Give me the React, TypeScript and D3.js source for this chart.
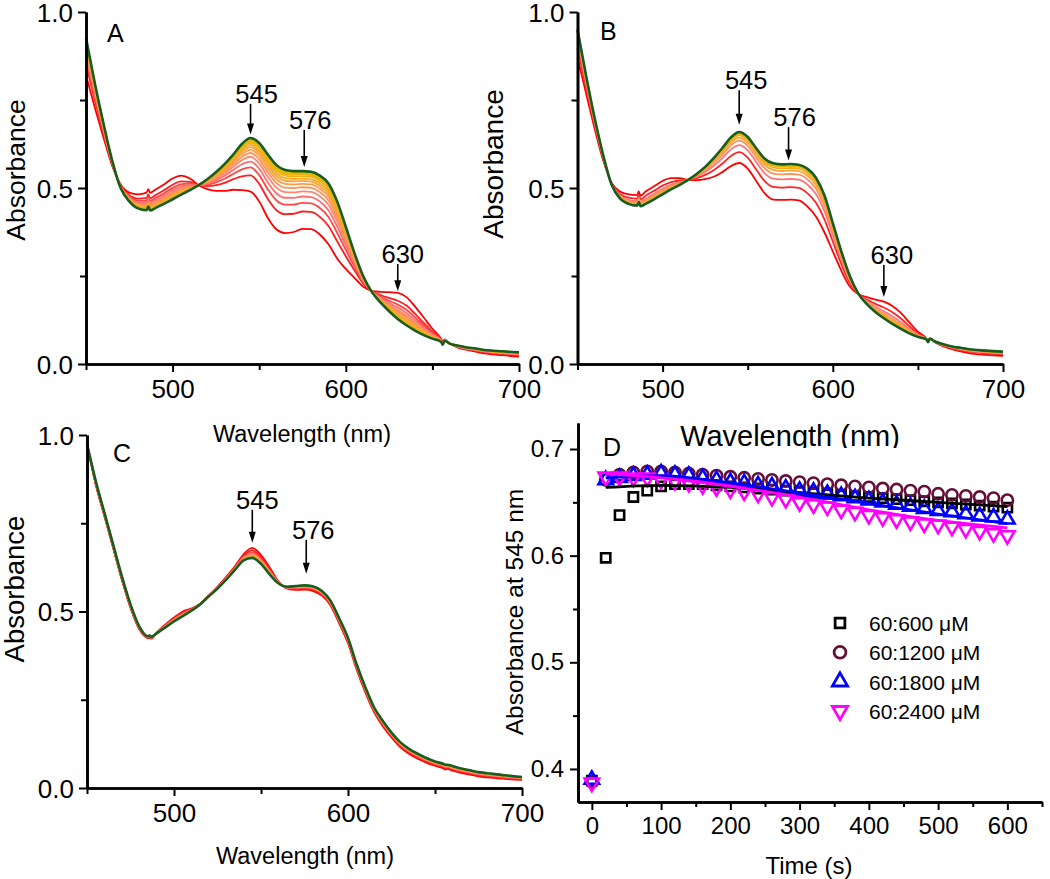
import React, { useEffect, useRef } from 'react';
import * as d3 from 'd3';

// wavelength grid (nm) shared by all spectra
const wavelengths = [450, 455, 460, 465, 470, 475, 480, 485, 486, 487, 490, 495, 500, 505, 510, 515, 520, 525, 530, 535, 540, 545, 550, 555, 560, 565, 570, 575, 580, 585, 590, 595, 600, 605, 610, 615, 620, 625, 630, 635, 640, 645, 650, 655, 656, 657, 660, 665, 670, 675, 680, 690, 700];

// panel A: first scan (red) and last scan (green)
const specAFirst = [0.82, 0.73, 0.645, 0.565, 0.51, 0.487, 0.482, 0.487, 0.497, 0.486, 0.495, 0.51, 0.527, 0.535, 0.527, 0.508, 0.497, 0.492, 0.492, 0.495, 0.494, 0.49, 0.462, 0.415, 0.382, 0.372, 0.375, 0.384, 0.383, 0.368, 0.34, 0.3, 0.27, 0.245, 0.22, 0.208, 0.205, 0.204, 0.202, 0.19, 0.163, 0.132, 0.1, 0.072, 0.064, 0.07, 0.058, 0.046, 0.04, 0.035, 0.03, 0.025, 0.021];
const specALast = [0.926, 0.8, 0.685, 0.58, 0.5, 0.462, 0.442, 0.437, 0.447, 0.436, 0.443, 0.455, 0.468, 0.481, 0.494, 0.508, 0.525, 0.545, 0.568, 0.595, 0.625, 0.642, 0.628, 0.595, 0.565, 0.551, 0.548, 0.548, 0.546, 0.535, 0.513, 0.462, 0.39, 0.315, 0.25, 0.205, 0.175, 0.15, 0.128, 0.11, 0.095, 0.082, 0.072, 0.063, 0.055, 0.066, 0.058, 0.052, 0.047, 0.044, 0.04, 0.036, 0.033];
// extent of conversion of each scan, read from the 545 nm heights
const scansA = [0, 0.3, 0.45, 0.56, 0.65, 0.72, 0.78, 0.83, 0.87, 0.91, 0.94, 0.96, 0.98, 1];

// panel B
const specBFirst = [0.87, 0.77, 0.67, 0.58, 0.515, 0.49, 0.482, 0.48, 0.49, 0.478, 0.49, 0.505, 0.52, 0.528, 0.528, 0.523, 0.522, 0.525, 0.532, 0.545, 0.562, 0.571, 0.555, 0.52, 0.485, 0.467, 0.466, 0.467, 0.465, 0.448, 0.42, 0.375, 0.32, 0.265, 0.22, 0.198, 0.19, 0.183, 0.177, 0.165, 0.145, 0.118, 0.092, 0.072, 0.064, 0.072, 0.062, 0.05, 0.042, 0.036, 0.031, 0.026, 0.023];
const specBLast = [0.95, 0.82, 0.7, 0.595, 0.51, 0.47, 0.455, 0.45, 0.46, 0.448, 0.455, 0.468, 0.482, 0.496, 0.509, 0.523, 0.54, 0.56, 0.585, 0.613, 0.643, 0.659, 0.645, 0.613, 0.583, 0.57, 0.567, 0.568, 0.566, 0.555, 0.53, 0.48, 0.4, 0.32, 0.25, 0.2, 0.17, 0.148, 0.13, 0.114, 0.1, 0.087, 0.077, 0.07, 0.062, 0.072, 0.064, 0.056, 0.05, 0.046, 0.042, 0.038, 0.035];
const scansB = [0, 0.35, 0.58, 0.72, 0.82, 0.89, 0.94, 0.97, 1];

// panel C
const specCFirst = [0.975, 0.86, 0.77, 0.68, 0.59, 0.51, 0.45, 0.425, 0.425, 0.423, 0.44, 0.463, 0.483, 0.5, 0.508, 0.522, 0.545, 0.57, 0.598, 0.628, 0.662, 0.68, 0.66, 0.625, 0.585, 0.565, 0.561, 0.562, 0.558, 0.545, 0.517, 0.466, 0.41, 0.335, 0.27, 0.215, 0.175, 0.143, 0.116, 0.097, 0.083, 0.072, 0.063, 0.055, 0.052, 0.054, 0.049, 0.043, 0.038, 0.033, 0.03, 0.026, 0.023];
const specCLast = [0.975, 0.87, 0.78, 0.69, 0.6, 0.52, 0.458, 0.43, 0.432, 0.428, 0.438, 0.455, 0.472, 0.487, 0.502, 0.52, 0.543, 0.565, 0.59, 0.618, 0.645, 0.652, 0.635, 0.605, 0.58, 0.57, 0.572, 0.574, 0.571, 0.558, 0.53, 0.48, 0.425, 0.35, 0.285, 0.228, 0.19, 0.157, 0.13, 0.111, 0.097, 0.085, 0.075, 0.068, 0.066, 0.066, 0.062, 0.055, 0.05, 0.045, 0.042, 0.036, 0.031];
const scansC = [0, 0.25, 0.45, 0.6, 0.72, 0.82, 0.9, 0.96, 1];

// panel D: absorbance at 545 nm vs time
const times = [0, 20, 40, 60, 80, 100, 120, 140, 160, 180, 200, 220, 240, 260, 280, 300, 320, 340, 360, 380, 400, 420, 440, 460, 480, 500, 520, 540, 560, 580, 600];
const abs600 = [0.389, 0.598, 0.638, 0.655, 0.661, 0.665, 0.667, 0.667, 0.667, 0.666, 0.665, 0.664, 0.663, 0.662, 0.661, 0.66, 0.659, 0.658, 0.657, 0.656, 0.655, 0.654, 0.653, 0.652, 0.651, 0.65, 0.649, 0.648, 0.647, 0.646, 0.645];
const abs1200 = [0.388, 0.671, 0.676, 0.678, 0.679, 0.679, 0.678, 0.677, 0.676, 0.675, 0.674, 0.673, 0.672, 0.671, 0.67, 0.669, 0.668, 0.667, 0.666, 0.665, 0.664, 0.663, 0.662, 0.661, 0.66, 0.658, 0.657, 0.656, 0.655, 0.654, 0.652];
const abs1800 = [0.39, 0.671, 0.673, 0.675, 0.676, 0.677, 0.676, 0.675, 0.673, 0.671, 0.669, 0.668, 0.666, 0.665, 0.663, 0.661, 0.66, 0.658, 0.656, 0.654, 0.652, 0.65, 0.648, 0.646, 0.644, 0.642, 0.641, 0.639, 0.637, 0.636, 0.634];
const abs2400 = [0.387, 0.674, 0.674, 0.673, 0.673, 0.671, 0.67, 0.668, 0.666, 0.664, 0.662, 0.66, 0.658, 0.655, 0.653, 0.65, 0.648, 0.646, 0.643, 0.641, 0.638, 0.636, 0.634, 0.632, 0.63, 0.629, 0.627, 0.625, 0.623, 0.621, 0.619];
const fitTimes = [20, 100, 200, 300, 400, 500, 600];
const fit600 = [0.664, 0.666, 0.664, 0.659, 0.654, 0.65, 0.646];
const fit1800 = [0.673, 0.675, 0.668, 0.659, 0.649, 0.639, 0.63];
const fit2400 = [0.677, 0.673, 0.665, 0.655, 0.643, 0.633, 0.626];
const legendLabels = ['60:600 \u03bcM', '60:1200 \u03bcM', '60:1800 \u03bcM', '60:2400 \u03bcM'];

const FONT = '"Liberation Sans", Arial, sans-serif';

const scanColor = d3.scaleLinear<string>()
    .domain([0, 0.35, 0.6, 0.8, 0.97])
    .range(['#ff0000', '#ff2424', '#ff7c7c', '#ffa040', '#e6b800'])
    .clamp(true);

function styleAxis(sel, fontSize) {
    sel.select('.domain').attr('stroke', '#000').attr('stroke-width', 2.6);
    sel.selectAll('line').attr('stroke', '#000').attr('stroke-width', 2);
    sel.selectAll('text').attr('font-family', FONT).attr('font-size', fontSize).attr('fill', '#000');
}

function arrow(g, x, yTop, yTip) {
    g.append('line').attr('x1', x).attr('x2', x).attr('y1', yTop).attr('y2', yTip - 8)
        .attr('stroke', '#000').attr('stroke-width', 1.6);
    g.append('path')
        .attr('d', `M${x},${yTip} L${x - 3.5},${yTip - 11} L${x + 3.5},${yTip - 11} Z`)
        .attr('fill', '#000');
}

function drawSpectra(svg, cfg) {
    const x = d3.scaleLinear().domain([450, 700]).range(cfg.xRange);
    const y = d3.scaleLinear().domain([0, 1]).range(cfg.yRange);
    const g = svg.append('g');

    const line = d3.line<number>()
        .x((d, i) => x(wavelengths[i]))
        .y(d => y(d))
        .curve(d3.curveMonotoneX);

    cfg.scans.forEach(f => {
        const vals = cfg.first.map((s, i) => s + f * (cfg.last[i] - s));
        g.append('path')
            .attr('d', line(vals))
            .attr('fill', 'none')
            .attr('stroke', f >= 1 ? '#175d21' : scanColor(f))
            .attr('stroke-width', f >= 1 ? 2.6 : 1.8);
    });

    const xAxis = g.append('g').attr('transform', `translate(0,${cfg.yRange[0]})`)
        .call(d3.axisBottom(x).tickValues([500, 600, 700]).tickFormat(d3.format('d'))
            .tickSize(8).tickPadding(8).tickSizeOuter(0));
    styleAxis(xAxis, 26);
    const xMinor = g.append('g').attr('transform', `translate(0,${cfg.yRange[0]})`)
        .call(d3.axisBottom(x).tickValues([450, 550, 650]).tickFormat(() => '').tickSize(6).tickSizeOuter(0));
    styleAxis(xMinor, 26);

    const yAxis = g.append('g').attr('transform', `translate(${cfg.xRange[0]},0)`)
        .call(d3.axisLeft(y).tickValues([0, 0.5, 1]).tickFormat(d3.format('.1f'))
            .tickSize(8).tickPadding(5).tickSizeOuter(0));
    styleAxis(yAxis, 26);
    yAxis.selectAll('text').attr('dy', '0.36em');
    const yMinor = g.append('g').attr('transform', `translate(${cfg.xRange[0]},0)`)
        .call(d3.axisLeft(y).tickValues([0.25, 0.75]).tickFormat(() => '').tickSize(6).tickSizeOuter(0));
    styleAxis(yMinor, 26);

    cfg.marks.forEach(m => {
        const ax = x(m.nm);
        arrow(g, ax, y(m.top), y(m.tip));
        g.append('text').attr('x', ax + m.dx).attr('y', y(m.top) - 1)
            .attr('text-anchor', 'middle').attr('font-family', FONT).attr('font-size', 25.5)
            .text(m.label);
    });

    g.append('text').attr('x', cfg.letter[0]).attr('y', cfg.letter[1])
        .attr('font-family', FONT).attr('font-size', 25).text(cfg.name);

    g.append('text')
        .attr('transform', `translate(${cfg.yTitle[0]},${cfg.yTitle[1]}) rotate(-90)`)
        .attr('text-anchor', 'middle').attr('font-family', FONT).attr('font-size', cfg.yTitle[2])
        .text('Absorbance');

    if (cfg.xTitle) {
        g.append('text').attr('x', cfg.xTitle[0]).attr('y', cfg.xTitle[1])
            .attr('text-anchor', 'middle').attr('font-family', FONT).attr('font-size', cfg.xTitle[2])
            .text('Wavelength (nm)');
    }
}

function drawKinetics(svg) {
    const x = d3.scaleLinear().domain([-20, 650]).range([578, 1042]);
    const y = d3.scaleLinear().domain([0.369, 0.7244]).range([802, 423]);
    const g = svg.append('g');

    const series = [
        { vals: abs600, shape: d3.symbolSquare, size: 85, color: '#000000', rot: 0 },
        { vals: abs1200, shape: d3.symbolCircle, size: 100, color: '#650f38', rot: 0 },
        { vals: abs1800, shape: d3.symbolTriangle, size: 90, color: '#0000ff', rot: 0 },
        { vals: abs2400, shape: d3.symbolTriangle, size: 90, color: '#ff00ff', rot: 180 },
    ];

    series.forEach(s => {
        const sym = d3.symbol().type(s.shape).size(s.size);
        g.append('g').selectAll('path')
            .data(s.vals)
            .enter().append('path')
            .attr('d', sym)
            .attr('transform', (d, i) => `translate(${x(times[i])},${y(d)}) rotate(${s.rot})`)
            .attr('fill', 'none')
            .attr('stroke', s.color)
            .attr('stroke-width', 2.6);
    });

    const fitLine = d3.line<number>()
        .x((d, i) => x(fitTimes[i]))
        .y(d => y(d))
        .curve(d3.curveMonotoneX);
    [[fit600, '#000000'], [fit1800, '#0000ff'], [fit2400, '#ff00ff']].forEach(([vals, color]) => {
        g.append('path').attr('d', fitLine(vals as number[]))
            .attr('fill', 'none').attr('stroke', color as string).attr('stroke-width', 2.8);
    });

    const xAxis = g.append('g').attr('transform', 'translate(0,802)')
        .call(d3.axisBottom(x).tickValues([0, 100, 200, 300, 400, 500, 600]).tickFormat(d3.format('d'))
            .tickSize(8).tickPadding(7).tickSizeOuter(0));
    styleAxis(xAxis, 24);
    const xMinor = g.append('g').attr('transform', 'translate(0,802)')
        .call(d3.axisBottom(x).tickValues([50, 150, 250, 350, 450, 550, 650]).tickFormat(() => '').tickSize(5).tickSizeOuter(0));
    styleAxis(xMinor, 24);

    const yAxis = g.append('g').attr('transform', 'translate(578,0)')
        .call(d3.axisLeft(y).tickValues([0.4, 0.5, 0.6, 0.7]).tickFormat(d3.format('.1f'))
            .tickSize(8).tickPadding(6).tickSizeOuter(0));
    styleAxis(yAxis, 24);
    const yMinor = g.append('g').attr('transform', 'translate(578,0)')
        .call(d3.axisLeft(y).tickValues([0.45, 0.55, 0.65]).tickFormat(() => '').tickSize(5).tickSizeOuter(0));
    styleAxis(yMinor, 24);

    // legend
    const legend = g.append('g');
    series.forEach((s, i) => {
        const ly = 623 + i * 29.3;
        legend.append('path')
            .attr('d', d3.symbol().type(s.shape).size(s.size + 10))
            .attr('transform', `translate(840,${ly}) rotate(${s.rot})`)
            .attr('fill', 'none').attr('stroke', s.color).attr('stroke-width', 2.8);
        legend.append('text').attr('x', 869).attr('y', ly + 8)
            .attr('font-family', FONT).attr('font-size', 21).text(legendLabels[i]);
    });

    g.append('text').attr('x', 603).attr('y', 456).attr('font-family', FONT).attr('font-size', 25).text('D');
    g.append('text').attr('x', 809).attr('y', 874).attr('text-anchor', 'middle')
        .attr('font-family', FONT).attr('font-size', 24).text('Time (s)');
    g.append('text').attr('transform', 'translate(523,612) rotate(-90)').attr('text-anchor', 'middle')
        .attr('font-family', FONT).attr('font-size', 24.5).text('Absorbance at 545 nm');
}

export default function App() {
    const ref = useRef<SVGSVGElement>(null);

    useEffect(() => {
        const svg = d3.select(ref.current);
        svg.selectAll('*').remove();
        svg.append('rect').attr('width', 1050).attr('height', 879).attr('fill', '#fff');

        drawSpectra(svg, {
            name: 'A', first: specAFirst, last: specALast, scans: scansA,
            xRange: [86, 519], yRange: [364, 12], letter: [107, 42],
            yTitle: [25, 170, 26.5], xTitle: [302, 442, 23.5],
            marks: [
                { nm: 545, label: '545', top: 0.739, tip: 0.652, dx: 6 },
                { nm: 576, label: '576', top: 0.665, tip: 0.56, dx: 6 },
                { nm: 630, label: '630', top: 0.284, tip: 0.207, dx: 5 },
            ],
        });

        drawSpectra(svg, {
            name: 'B', first: specBFirst, last: specBLast, scans: scansB,
            xRange: [577.5, 1003], yRange: [364, 12], letter: [600, 40],
            yTitle: [503, 164, 28], xTitle: [790, 446, 29],
            marks: [
                { nm: 545, label: '545', top: 0.778, tip: 0.68, dx: 7 },
                { nm: 574, label: '576', top: 0.673, tip: 0.578, dx: 6 },
                { nm: 630, label: '630', top: 0.281, tip: 0.19, dx: 8 },
            ],
        });

        drawSpectra(svg, {
            name: 'C', first: specCFirst, last: specCLast, scans: scansC,
            xRange: [87, 522], yRange: [788, 435], letter: [113, 462],
            yTitle: [24, 589, 27.5], xTitle: [305, 864, 23.5],
            marks: [
                { nm: 545, label: '545', top: 0.788, tip: 0.695, dx: 5 },
                { nm: 576, label: '576', top: 0.703, tip: 0.607, dx: 7 },
            ],
        });

        // panel D sits on a white layer that cuts off the bottom of B's axis title
        svg.append('rect').attr('x', 560).attr('y', 448).attr('width', 490).attr('height', 431).attr('fill', '#fff');
        drawKinetics(svg);
    }, []);

    return (
        <svg ref={ref} width={1050} height={879}
            style={{ position: 'absolute', left: 0, top: 0, display: 'block' }} />
    );
}
